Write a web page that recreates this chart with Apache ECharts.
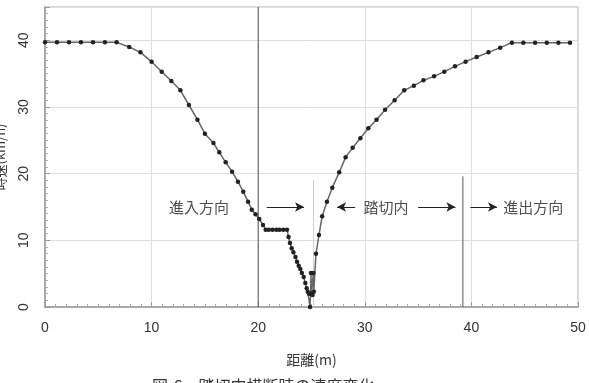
<!DOCTYPE html>
<html>
<head>
<meta charset="utf-8">
<script src="https://cdn.jsdelivr.net/npm/echarts@6/dist/echarts.min.js"></script>
<style>
  html, body { margin: 0; padding: 0; background: #fff; }
  #main { width: 589px; height: 383px; }
</style>
</head>
<body>
<div id="main"></div>
<script>
// 距離(m) と 時速(km/h)
var distM = [0, 1.12, 2.25, 3.37, 4.5, 5.62, 6.72, 7.9, 8.95, 10.0, 10.95, 11.85, 12.7, 13.5, 14.3,
  15.0, 15.8, 16.35, 16.95, 17.55, 18.1, 18.6, 19.05, 19.4, 19.75, 20.1, 20.45, 20.7,
  21.0, 21.35, 21.7, 22.0, 22.35, 22.7, 22.85, 22.98, 23.14, 23.3, 23.5, 23.64, 23.8, 23.95,
  24.1, 24.27, 24.42, 24.55, 24.65, 24.77, 24.86, 24.92, 24.95, 25.0, 25.1, 25.17, 25.22,
  25.42, 25.7, 26.0, 26.45, 26.95, 27.6, 28.2, 28.86, 29.58, 30.33, 31.1, 31.9, 32.8, 33.7,
  34.6, 35.5, 36.5, 37.46, 38.46, 39.46, 40.5, 41.6, 42.7, 43.8, 44.87, 45.97, 47.07, 48.16, 49.25];
var speedKmh = [39.7, 39.7, 39.7, 39.7, 39.7, 39.7, 39.7, 39.0, 38.2, 36.8, 35.3, 33.9, 32.5, 30.3, 28.1,
  26.0, 24.6, 23.2, 21.7, 20.3, 18.8, 17.3, 15.8, 14.6, 13.9, 13.2, 12.3, 11.6,
  11.6, 11.6, 11.6, 11.6, 11.6, 11.6, 10.5, 9.6, 8.8, 8.2, 7.5, 6.8, 6.2, 5.7,
  5.1, 4.5, 3.6, 2.8, 2.3, 2.0, 0, 2.0, 5.1, 2.0, 1.8, 5.1, 2.3,
  8.0, 10.8, 13.6, 15.8, 17.9, 20.2, 22.45, 23.9, 25.3, 26.8, 28.1, 29.6, 31.0, 32.5,
  33.2, 34.0, 34.6, 35.3, 36.1, 36.8, 37.5, 38.2, 38.9, 39.65, 39.65, 39.65, 39.65, 39.65, 39.65];

var xTicks = [0, 10, 20, 30, 40, 50];
var yTicks = [0, 10, 20, 30, 40];

// 区間の区切り線 [x, 下端, 上端, 色]
var dividers = [[20, 0, 45, '#555'], [25.2, 0, 19.1, '#ccc'], [39.2, 0, 19.6, '#555']];

// 注記
var noteText = ['進入方向', '踏切内', '進出方向'];
var noteX = [14.45, 32.0, 45.8];
var noteY = 15.0;
// 矢印 [始点x, 終点x, 向き(1:右, -1:左)]
var arrows = [[20.8, 24.3, 1], [27.4, 29.1, -1], [35.0, 38.5, 1], [39.9, 42.4, 1]];

var caption = '図-6　踏切内横断時の速度変化';

var myChart = echarts.init(document.getElementById('main'));

var curve = distM.map(function (d, i) { return [d, speedKmh[i]]; });

var series = [{
  type: 'line',
  data: curve,
  symbol: 'circle',
  symbolSize: 4.5,
  lineStyle: { color: '#666', width: 1.5 },
  itemStyle: { color: '#222' },
  z: 5
}];

dividers.forEach(function (v) {
  series.push({
    type: 'line',
    data: [[v[0], v[1]], [v[0], v[2]]],
    symbol: 'none',
    lineStyle: { color: v[3], width: 1 },
    z: 3
  });
});

series.push({
  type: 'scatter',
  data: noteX.map(function (x, i) { return { value: [x, noteY], name: noteText[i] }; }),
  symbolSize: 0,
  label: {
    show: true,
    position: 'inside',
    formatter: '{b}',
    fontFamily: 'Noto Sans CJK JP',
    fontSize: 15,
    color: '#222'
  },
  z: 6
});

series.push({
  type: 'line',
  data: [],
  markLine: {
    silent: true,
    symbolSize: [7, 9],
    label: { show: false },
    lineStyle: { color: '#222', width: 1, type: 'solid' },
    data: arrows.map(function (a) {
      return [
        { coord: [a[0], noteY], symbol: a[2] < 0 ? 'arrow' : 'none' },
        { coord: [a[1], noteY], symbol: a[2] > 0 ? 'arrow' : 'none' }
      ];
    })
  }
});

var option = {
  animation: false,
  backgroundColor: '#fff',
  textStyle: { fontFamily: 'Liberation Sans' },
  grid: {
    left: 45, right: 11, top: 7, bottom: 76,
    outerBoundsMode: 'none',
    containLabel: false,
    show: true,
    borderColor: '#ccc',
    borderWidth: 1.5
  },
  xAxis: {
    type: 'value',
    min: 0, max: 50, interval: 10,
    name: '距離(m)',
    nameLocation: 'middle',
    nameGap: 46,
    nameTextStyle: { fontFamily: 'Noto Sans CJK JP', fontSize: 14, color: '#333' },
    axisLine: { lineStyle: { color: '#999', width: 1.5 } },
    axisTick: { inside: true, length: 5, lineStyle: { color: '#999' } },
    minorTick: { show: true, splitNumber: 10, length: 3, lineStyle: { color: '#aaa' } },
    splitLine: { lineStyle: { color: '#ddd' } },
    axisLabel: {
      margin: 14, fontSize: 14, color: '#333',
      formatter: function (v) { return xTicks.indexOf(v) >= 0 ? String(v) : ''; }
    }
  },
  yAxis: {
    type: 'value',
    min: 0, max: 45, interval: 10,
    name: '時速(km/h)',
    nameLocation: 'middle',
    nameGap: 38,
    nameRotate: 90,
    nameTextStyle: { fontFamily: 'Noto Sans CJK JP', fontSize: 13, color: '#333' },
    axisLine: { lineStyle: { color: '#999', width: 1.5 } },
    axisTick: { inside: true, length: 5, lineStyle: { color: '#999' } },
    minorTick: { show: true, splitNumber: 10, length: 3, lineStyle: { color: '#aaa' } },
    splitLine: { lineStyle: { color: '#ddd' } },
    axisLabel: {
      margin: 14, fontSize: 14, color: '#333', rotate: 90,
      showMaxLabel: false,
      formatter: function (v) { return yTicks.indexOf(v) >= 0 ? String(v) : ''; }
    }
  },
  graphic: [{
    type: 'text',
    left: 152,
    top: 378,
    style: {
      text: caption,
      fontFamily: 'Noto Sans CJK JP',
      fontSize: 16,
      fill: '#333'
    }
  }],
  series: series
};

myChart.setOption(option);
</script>
</body>
</html>
